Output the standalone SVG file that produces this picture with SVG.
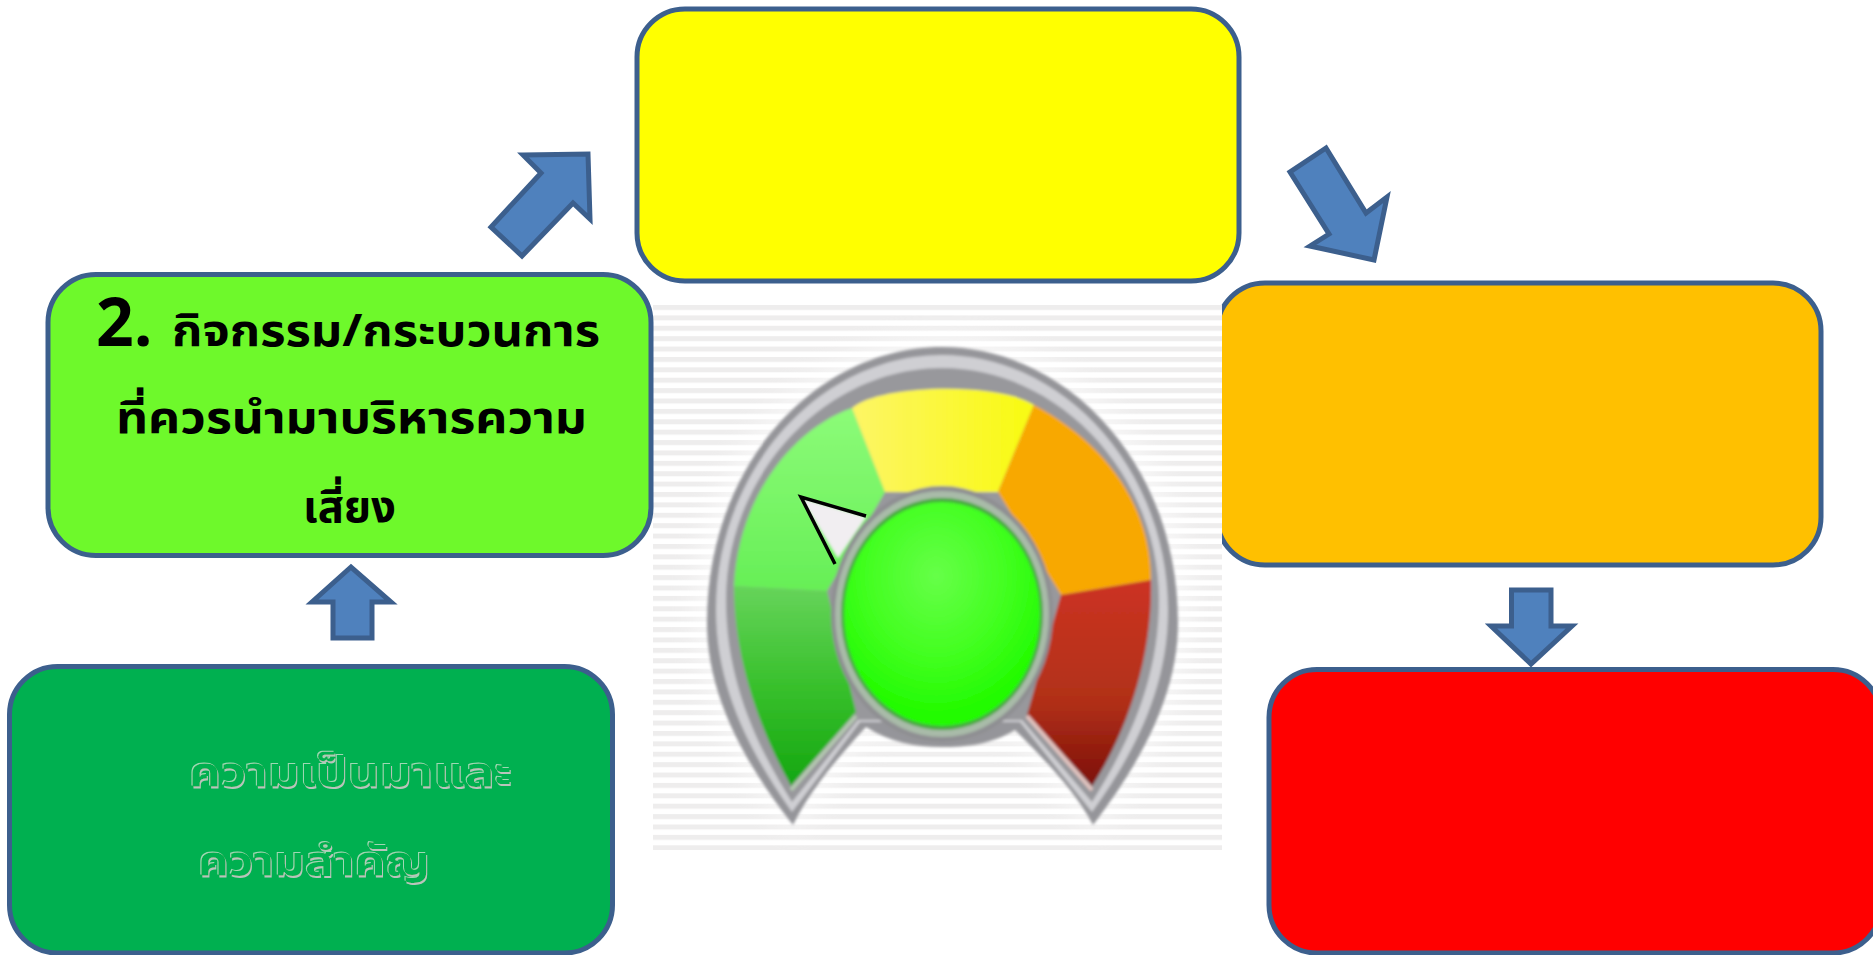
<svg xmlns="http://www.w3.org/2000/svg" width="1873" height="955" viewBox="0 0 1873 955">
<style>
.box{stroke:#3c5f8d;stroke-width:5}
.arrow{fill:#4f81bd;stroke:#3c5f8d;stroke-width:5}
.t{font-family:"Noto Sans Thai","Noto Serif Thai","Noto Sans",sans-serif;font-weight:700;text-anchor:start}
</style>
<defs>
<pattern id="stripes" width="10" height="10.39" patternUnits="userSpaceOnUse" x="653" y="305"><rect width="10" height="5" fill="#eeeded"/></pattern>
<filter id="soft" x="-5%" y="-5%" width="110%" height="110%"><feGaussianBlur stdDeviation="1.4"/></filter>
<filter id="halo" x="-10%" y="-10%" width="120%" height="120%"><feGaussianBlur stdDeviation="14"/></filter>
<filter id="emboss" x="-5%" y="-15%" width="110%" height="130%">
<feOffset in="SourceAlpha" dx="1" dy="2" result="o1"/><feFlood flood-color="#b9c4bc"/><feComposite in2="o1" operator="in" result="sh"/>
<feOffset in="SourceAlpha" dx="-1" dy="-1" result="o2"/><feFlood flood-color="#9ed8b4"/><feComposite in2="o2" operator="in" result="hi"/>
<feMerge><feMergeNode in="sh"/><feMergeNode in="hi"/><feMergeNode in="SourceGraphic"/></feMerge>
</filter>
<linearGradient id="gD" x1="0" y1="0" x2="0" y2="1"><stop offset="0" stop-color="#66d45a"/><stop offset=".5" stop-color="#38c02c"/><stop offset="1" stop-color="#14a610"/></linearGradient>
<linearGradient id="gL" x1="0" y1="0" x2="0" y2="1"><stop offset="0" stop-color="#8cfb78"/><stop offset="1" stop-color="#66ef56"/></linearGradient>
<linearGradient id="gY" x1="0" y1="0" x2="1" y2="0"><stop offset="0" stop-color="#fdf566"/><stop offset="1" stop-color="#f8fa10"/></linearGradient>
<linearGradient id="gR" x1="0" y1="0" x2="0" y2="1"><stop offset="0" stop-color="#cc3322"/><stop offset=".6" stop-color="#b02f18"/><stop offset="1" stop-color="#7c0f06"/></linearGradient>
<radialGradient id="gC" cx=".47" cy=".33" r=".62"><stop offset="0" stop-color="#66ff48"/><stop offset=".55" stop-color="#44ff22"/><stop offset="1" stop-color="#22fb00"/></radialGradient>
</defs>
<g id="node-orange"><rect class="box" x="1217" y="283" width="604" height="282" rx="48" fill="#ffc000"/></g>
<g id="node-gauge">
<rect x="653" y="305" width="569" height="545" fill="#fff"/>
<rect x="653" y="305" width="569" height="545" fill="url(#stripes)"/>
<path d="M793,835 C740,770 695,700 695,610 C695,450 820,335 942,335 C1064,335 1190,450 1190,610 C1190,700 1145,770 1093,835 L1015,740 L866,740 Z" fill="#fff" opacity=".6" filter="url(#halo)"/>
<g filter="url(#soft)">
<path d="M793,825 C750,770 707,700 707,623 C707,460 820,347 942,347 C1064,347 1178,460 1178,623 C1178,700 1135,770 1093,825 C1075,790 1040,755 1015,730 C990,745 965,747 942,747 C915,747 890,742 866,727 C840,755 810,790 793,825 Z" fill="#95959a"/>
<path d="M792,812 C752,755 716,690 716,610 C716,470 820,355 942,355 C1064,355 1168,470 1168,610 C1168,690 1133,755 1092,812 L1020,722 L860,722 Z" fill="#cfcfd3"/>
<path d="M792,802 C756,745 726,680 726,600 C726,475 825,368 942,368 C1059,368 1159,475 1159,600 C1159,680 1128,745 1092,802 L1022,720 L858,720 Z" fill="#98989c"/>
<path d="M734,586 L827,591 L856,712 L791,786 C760,730 734,660 734,586 Z" fill="url(#gD)"/>
<path d="M734,586 C738,500 790,430 852,408 L885,492 L827,591 Z" fill="url(#gL)"/>
<path d="M852,408 C880,384 1000,382 1034,405 L998,492 L885,492 Z" fill="url(#gY)"/>
<path d="M1034,405 C1100,440 1151,500 1151,580 L1061,595 L998,492 Z" fill="#f8a800"/>
<path d="M1151,580 C1153,660 1125,735 1092,786 L1027,715 L1061,595 Z" fill="url(#gR)"/>
<path d="M791,790 L856,716" fill="none" stroke="#b4c8b0" stroke-width="4"/>
<path d="M1092,790 L1027,716" fill="none" stroke="#e2c4c0" stroke-width="4"/>
<ellipse cx="942" cy="614" rx="111" ry="128" fill="#8e8e92"/>
<ellipse cx="942" cy="614" rx="107" ry="123" fill="#a9bba9"/>
<ellipse cx="942" cy="614" rx="101" ry="116" fill="#46a83c"/>
<ellipse cx="942" cy="614" rx="98" ry="112" fill="url(#gC)"/>
<path d="M801,498 L866,517 L838,558 Z" fill="#f1eef1"/>
</g>
<path d="M866,516 L801,497 L835,564" fill="none" stroke="#000" stroke-width="3.5"/>
</g>
<g id="node-yellow"><rect class="box" x="637" y="9" width="602" height="272" rx="48" fill="#ffff00"/></g>
<g id="node-green"><rect class="box" x="48" y="274.500" width="603" height="281" rx="48" fill="#6ef92b"/>
<text class="t" x="96" y="346" font-size="66" style="font-family:'Open Sans','Noto Sans',sans-serif">2.</text>
<text class="t" x="172" y="346" font-size="44" textLength="428" lengthAdjust="spacingAndGlyphs">กิจกรรม/กระบวนการ</text>
<text class="t" x="116" y="433" font-size="44" textLength="471" lengthAdjust="spacingAndGlyphs">ที่ควรนำมาบริหารความ</text>
<text class="t" x="303" y="522" font-size="44" textLength="93" lengthAdjust="spacingAndGlyphs">เสี่ยง</text>
</g>
<g id="node-dark-green"><rect class="box" x="9.500" y="666.500" width="603" height="286.500" rx="48" fill="#00b050"/>
<text class="t" x="189" y="786" font-size="40" fill="#00b050" filter="url(#emboss)" textLength="323" lengthAdjust="spacingAndGlyphs">ความเป็นมาและ</text>
<text class="t" x="198" y="875" font-size="40" fill="#00b050" filter="url(#emboss)" textLength="232" lengthAdjust="spacingAndGlyphs">ความสำคัญ</text>
</g>
<g id="node-red"><rect class="box" x="1269" y="669.500" width="612" height="283.500" rx="48" fill="#ff0000"/></g>
<g id="connectors">
<polygon class="arrow" points="351,567 312,602 333,602 333,638 372,638 372,602 391,602"/>
<polygon class="arrow" points="523,155 588,154 590,219 573,203 522,256 491,227 541,173"/>
<polygon class="arrow" points="1326,148 1290,172 1329,234 1310,246 1374,260 1387,197 1366,213"/>
<polygon class="arrow" points="1511.500,590 1551,590 1551,626 1572,626 1531,664 1491,626 1511.500,626"/>
</g>
</svg>
